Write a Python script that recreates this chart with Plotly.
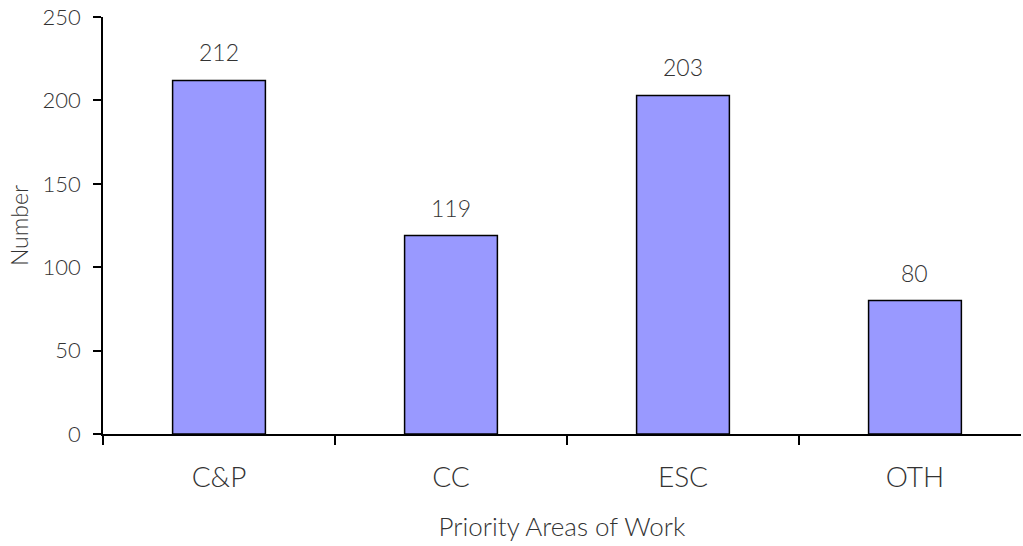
import plotly.graph_objects as go

categories = ["C&P", "CC", "ESC", "OTH"]
values = [212, 119, 203, 80]

font_family = "Lato"
font_weight = 300
text_color = "#333333"


def txt(size):
    return dict(family=font_family, size=size, color=text_color, weight=font_weight)


fig = go.Figure(
    go.Bar(
        x=categories,
        y=values,
        width=0.4,
        marker=dict(color="#9999FF", line=dict(color="#000000", width=1.5)),
        hoverinfo="x+y",
    )
)

# value labels above each bar
for cat, val in zip(categories, values):
    fig.add_annotation(
        x=cat,
        y=val,
        text=str(val),
        showarrow=False,
        yanchor="bottom",
        yshift=12,
        font=txt(23),
    )

fig.update_layout(
    width=1023,
    height=546,
    margin=dict(l=103, r=2, t=17, b=112),
    paper_bgcolor="white",
    plot_bgcolor="white",
    showlegend=False,
    font=dict(family=font_family, color=text_color),
)

fig.update_xaxes(
    type="category",
    range=[-0.5, 3.457],
    tickson="boundaries",
    ticks="outside",
    ticklen=9,
    tickwidth=1.5,
    tickcolor="#000000",
    showline=True,
    linecolor="#000000",
    linewidth=1.5,
    showgrid=False,
    ticklabelstandoff=18,
    tickfont=txt(28),
    title=dict(text="Priority Areas of Work", font=txt(26), standoff=25),
)

fig.update_yaxes(
    range=[0, 250],
    tickvals=[0, 50, 100, 150, 200, 250],
    ticks="outside",
    ticklen=8,
    tickwidth=1.5,
    tickcolor="#000000",
    showline=True,
    linecolor="#000000",
    linewidth=1.5,
    showgrid=False,
    zeroline=False,
    ticklabelstandoff=8,
    tickfont=txt(22),
    title=dict(text="Number", font=txt(23), standoff=8),
)

fig.write_html("out.html")
